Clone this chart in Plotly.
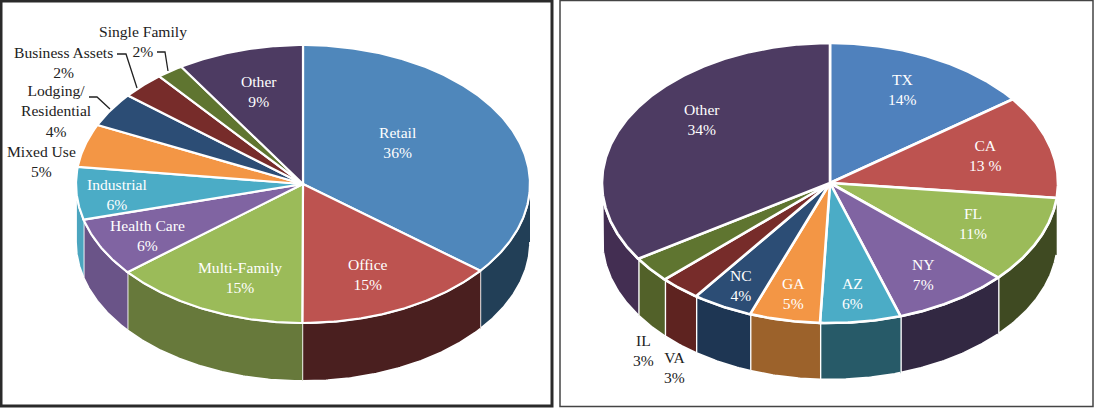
import numpy as np
import plotly.graph_objects as go

# ---- data ----
left_names = ["Retail", "Office", "Multi-Family", "Health Care", "Industrial", "Mixed Use",
              "Lodging/<br>Residential", "Business Assets", "Single Family", "Other"]
left_values = [35.7, 14.3, 14.0, 6.8, 6.1, 5.0, 4.0, 3.1, 1.9, 9.0]
left_labels = ["36%", "15%", "15%", "6%", "6%", "5%", "4%", "2%", "2%", "9%"]

right_names = ["TX", "CA", "FL", "NY", "AZ", "GA", "NC", "VA", "IL", "Other"]
right_values = [14.8, 11.9, 10.1, 8.2, 5.7, 5.0, 4.3, 2.9, 3.0, 34.1]
right_labels = ["14%", "13 %", "11%", "7%", "6%", "5%", "4%", "3%", "3%", "34%"]

# ---- styles ----
left_top = ["#4F87BB", "#BD5350", "#9BBB59", "#8064A2", "#4BACC6", "#F39645", "#2C4D75", "#772C2A", "#5F7530", "#4D3B62"]
left_wall = ["#223F57", "#4A1F1F", "#67793B", "#6A5488", "#4BA5BF", "#F39645", "#2C4D75", "#772C2A", "#5F7530", "#4D3B62"]
right_top = ["#4F81BD", "#BD5350", "#9BBB59", "#8064A2", "#4BACC6", "#F39645", "#2C4D75", "#772C2A", "#5F7530", "#4D3B62"]
right_wall = ["#4F81BD", "#8A5A44", "#3F4A22", "#322842", "#275A68", "#9C622B", "#1E3653", "#5E2320", "#526129", "#432E52"]

left_geom = dict(cx=303, cy=184, rx=227, ry=139, depth=58, top_line=2.2, wall_line=1.8)
right_geom = dict(cx=830, cy=183, rx=228, ry=140, depth=57, top_line=2.6, wall_line=2.7)

# label anchors (centre of text block, page pixels)
left_pos = [(398, 142), (368, 274), (240, 277), (147, 235), (117, 194), (41, 161),
            (56, 111), (63, 62), (143, 41), (259, 91)]
left_dark = [5, 6, 7, 8]
right_pos = [(902, 89), (985, 155), (973, 223), (923, 274), (852, 293), (793, 293),
             (741, 285), (674, 367), (643, 350), (702, 119)]
right_dark = [7, 8]

fig = go.Figure()


def rim(g, a, b):
    t = np.radians(np.linspace(a, b, max(2, int(abs(b - a) * 2) + 1)))
    return g["cx"] + g["rx"] * np.sin(t), g["cy"] - g["ry"] * np.cos(t)


def add_pie(values, tops, walls, names, g):
    edges = np.concatenate([[0], np.cumsum(values)]) / np.sum(values) * 360
    for i, n in enumerate(names):
        a, b = max(edges[i], 90), min(edges[i + 1], 270)
        if b > a:
            x, y = rim(g, a, b)
            fig.add_trace(go.Scatter(
                x=np.concatenate([x, x[::-1]]), y=np.concatenate([y, y[::-1] + g["depth"]]),
                mode="lines", fill="toself", fillcolor=walls[i],
                line=dict(color="white", width=g["wall_line"]), hoverinfo="skip", showlegend=False))
    for i, n in enumerate(names):
        x, y = rim(g, edges[i], edges[i + 1])
        fig.add_trace(go.Scatter(
            x=np.concatenate([[g["cx"]], x, [g["cx"]]]), y=np.concatenate([[g["cy"]], y, [g["cy"]]]),
            mode="lines", fill="toself", fillcolor=tops[i],
            line=dict(color="white", width=g["top_line"]), name=n.replace("<br>", " "), showlegend=False))


def add_labels(names, labels, pos, dark):
    for i, (n, l) in enumerate(zip(names, labels)):
        fig.add_annotation(x=pos[i][0], y=pos[i][1], text=f"{n}<br>{l}", showarrow=False,
                           xanchor="center", yanchor="middle", align="center",
                           font=dict(family="Liberation Serif", size=15.6,
                                     color="#222222" if i in dark else "#FFFFFF"))


add_pie(left_values, left_top, left_wall, left_names, left_geom)
add_pie(right_values, right_top, right_wall, right_names, right_geom)
add_labels(left_names, left_labels, left_pos, left_dark)
add_labels(right_names, right_labels, right_pos, right_dark)

shapes = [
    dict(type="rect", x0=1, y0=1, x1=552, y1=406, line=dict(color="#2A2A2A", width=3)),
    dict(type="rect", x0=560, y0=0.5, x1=1093, y1=406.5, line=dict(color="#444444", width=1.5)),
]
for path in ["M157,52 L165,52 L168,71", "M117,54 L126,54 L137,88", "M89,97 L97,97 L110,109"]:
    shapes.append(dict(type="path", path=path, line=dict(color="#222222", width=1.3)))

fig.update_layout(
    width=1094, height=408, margin=dict(l=0, r=0, t=0, b=0), autosize=False,
    paper_bgcolor="white", plot_bgcolor="white", showlegend=False, shapes=shapes,
    xaxis=dict(range=[0, 1094], visible=False, fixedrange=True),
    yaxis=dict(range=[408, 0], visible=False, fixedrange=True),
)
fig.write_html("out.html", config={"displayModeBar": False},
               post_script="document.body.style.margin='0';document.documentElement.style.overflow='hidden';")
